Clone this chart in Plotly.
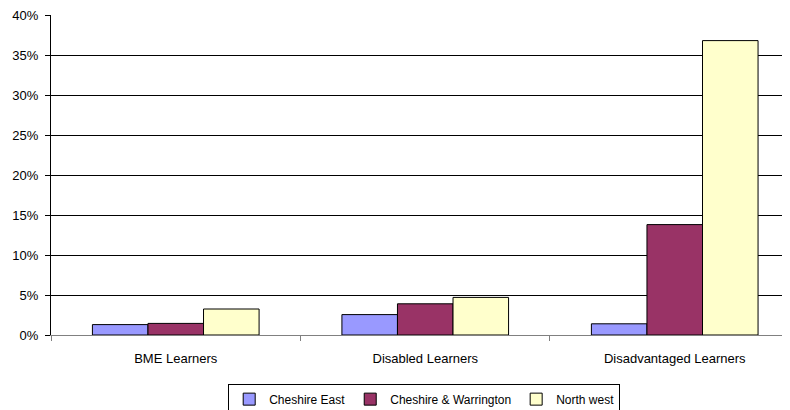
import plotly.graph_objects as go

categories = ["BME Learners", "Disabled Learners", "Disadvantaged Learners"]
cheshire_east = [0.013, 0.0255, 0.014]
cheshire_warrington = [0.0145, 0.039, 0.138]
north_west = [0.0325, 0.047, 0.368]

series = [
    ("Cheshire East", cheshire_east, "#9999FF"),
    ("Cheshire & Warrington", cheshire_warrington, "#993366"),
    ("North west", north_west, "#FFFFCC"),
]

fig = go.Figure()
for name, vals, color in series:
    fig.add_trace(go.Bar(
        x=categories, y=vals, name=name,
        marker=dict(color=color, line=dict(color="#000000", width=1)),
    ))

# page body has an 8px margin, so the figure is drawn slightly smaller
fig.update_layout(
    width=782, height=402,
    margin=dict(l=43, r=0, t=7, b=75, autoexpand=False),
    paper_bgcolor="white", plot_bgcolor="white",
    font=dict(family="Liberation Sans, Arial", size=13, color="#000000"),
    barmode="group", bargap=0.332, bargroupgap=0,
    showlegend=True,
    legend=dict(
        orientation="h", x=0.505, xanchor="center", y=-0.152, yanchor="top",
        bordercolor="#000000", borderwidth=1, font=dict(size=12),
        itemwidth=30, tracegroupgap=0,
    ),
)
fig.update_xaxes(
    range=[-0.5, 2.462], tickson="boundaries", ticks="outside", ticklen=5,
    tickcolor="#808080", showline=True, linecolor="#808080", linewidth=1,
    showgrid=False, automargin=False, ticklabelstandoff=11,
)
fig.update_yaxes(
    range=[0, 0.4], dtick=0.05, tickformat=".0%", ticks="outside", ticklen=5,
    tickcolor="#000000", showline=True, linecolor="#000000", linewidth=1,
    showgrid=True, gridcolor="#000000", gridwidth=1, zeroline=False,
    automargin=False, ticklabelstandoff=4, ticklabeloverflow="allow",
)

fig.write_html("out.html")
